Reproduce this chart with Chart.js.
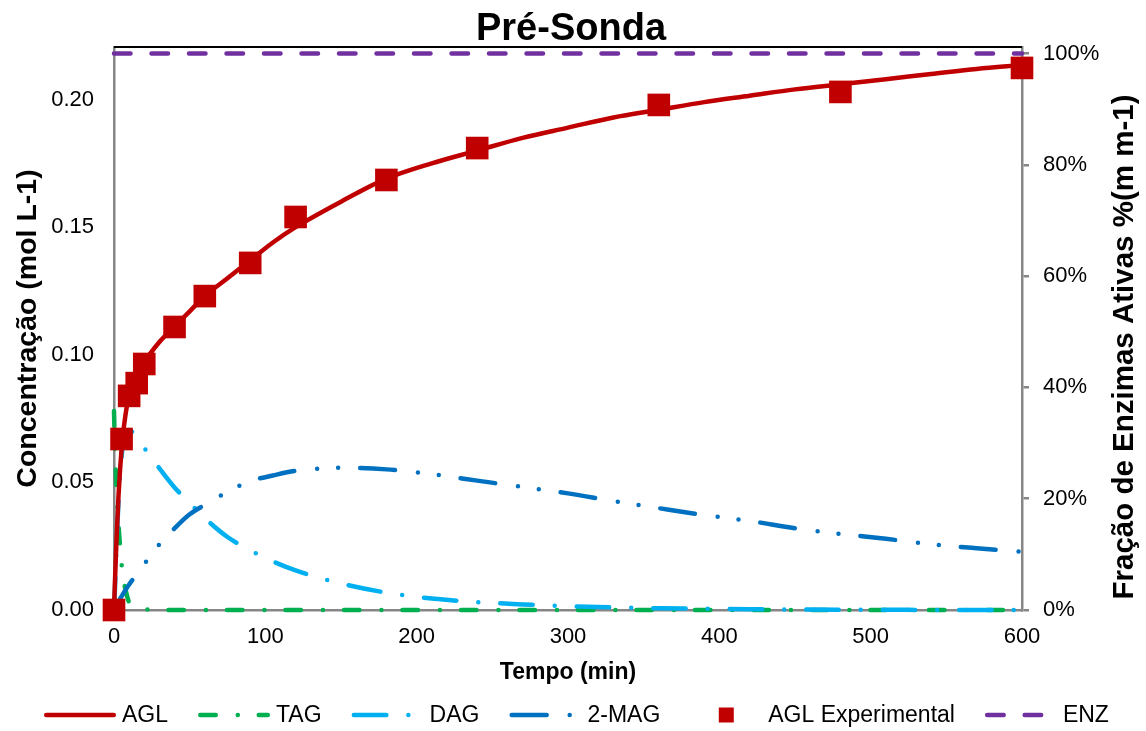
<!DOCTYPE html>
<html>
<head>
<meta charset="utf-8">
<script src="https://cdn.jsdelivr.net/npm/chart.js@4.4.1/dist/chart.umd.min.js"></script>
<style>
  html, body { margin: 0; padding: 0; background: #fff; }
</style>
</head>
<body>
<canvas id="chart" width="1146" height="731"></canvas>
<script>
// model time grid (min)
const times = [0, 0.5, 1, 1.5, 2, 3, 4, 5, 6, 8, 10, 15, 20, 30, 40, 50, 60, 75, 90, 105, 120,
  150, 180, 210, 240, 270, 300, 330, 360, 390, 420, 450, 480, 510, 540, 570, 600];

const agl = [0, 0.009, 0.017, 0.025, 0.032, 0.045, 0.055, 0.063, 0.069, 0.078, 0.084, 0.091, 0.097,
  0.105, 0.111, 0.117, 0.123, 0.130, 0.137, 0.144, 0.150, 0.160, 0.169, 0.175, 0.180, 0.185, 0.189,
  0.193, 0.196, 0.199, 0.2015, 0.204, 0.206, 0.208, 0.210, 0.212, 0.2135];

const tag = [0.078, 0.066, 0.057, 0.049, 0.043, 0.033, 0.025, 0.018, 0.013, 0.007, 0.003, 0.001, 0.0003,
  0, 0, 0, 0, 0, 0, 0, 0, 0, 0, 0, 0, 0, 0, 0, 0, 0, 0, 0, 0, 0, 0, 0, 0];

const dag = [0, 0.006, 0.014, 0.022, 0.030, 0.043, 0.053, 0.060, 0.065, 0.069, 0.0705, 0.0675, 0.0635,
  0.0555, 0.048, 0.042, 0.036, 0.0286, 0.0234, 0.019, 0.0155, 0.0104, 0.0068, 0.0045, 0.0031, 0.0022,
  0.0015, 0.001, 0.0007, 0.0005, 0.0003, 0.0002, 0.0001, 0.0001, 0, 0, 0];

const mag = [0, 0.0005, 0.001, 0.0015, 0.002, 0.003, 0.0043, 0.0053, 0.0063, 0.0082, 0.010, 0.014, 0.018,
  0.0257, 0.032, 0.0375, 0.0412, 0.0463, 0.0505, 0.0527, 0.0545, 0.0557, 0.0551, 0.0532, 0.0507, 0.0482,
  0.0457, 0.0427, 0.0399, 0.0372, 0.0349, 0.032, 0.0298, 0.0279, 0.0258, 0.0242, 0.0228];

// experimental points
const expTimes = [0, 5, 10, 15, 20, 40, 60, 90, 120, 180, 240, 360, 480, 600];
const expAgl = [0, 0.067, 0.0839, 0.0889, 0.0964, 0.1109, 0.123, 0.136, 0.154, 0.1685, 0.181, 0.1979, 0.203, 0.2124];

// active enzyme fraction
const enzTimes = [0, 600];
const enz = [1, 1];

const toXY = (xs, ys) => xs.map((x, i) => ({ x: x, y: ys[i] }));

const FONT = "'Liberation Sans', Arial, sans-serif";
Chart.defaults.font.family = FONT;
Chart.defaults.color = '#000';

const AXIS_GRAY = '#868686';

const lineDs = (label, data, color, dash, order) => ({
  label: label,
  data: data,
  showLine: true,
  borderColor: color,
  backgroundColor: color,
  borderWidth: 4.5,
  borderDash: dash,
  borderCapStyle: 'round',
  borderJoinStyle: 'round',
  pointRadius: 0,
  cubicInterpolationMode: 'monotone',
  clip: false,
  order: order,
  yAxisID: 'y'
});

const datasets = [
  lineDs('AGL', toXY(times, agl), '#C00000', [], 1),
  lineDs('TAG', toXY(times, tag), '#00B050', [15.5, 22, 0, 21], 4),
  lineDs('DAG', toXY(times, dag), '#00B0F0', [32.5, 22, 0, 22], 3),
  lineDs('2-MAG', toXY(times, mag), '#0070C0', [35, 23, 0, 21, 0, 22], 2),
  {
    label: 'AGL Experimental',
    data: toXY(expTimes, expAgl),
    showLine: false,
    pointStyle: 'rect',
    pointRadius: 16,
    pointBackgroundColor: '#C00000',
    pointBorderColor: '#C00000',
    pointBorderWidth: 0,
    clip: false,
    order: 0,
    yAxisID: 'y'
  },
  Object.assign(lineDs('ENZ', toXY(enzTimes, enz), '#7030A0', [16.5, 21], 5), { yAxisID: 'y1' })
];

// top frame line, chart title, right axis title and legend
const decor = {
  id: 'decor',
  beforeDatasetsDraw(chart) {
    const { ctx, chartArea } = chart;
    ctx.save();
    ctx.strokeStyle = '#000';
    ctx.lineWidth = 2;
    ctx.beginPath();
    ctx.moveTo(chartArea.left, chartArea.top);
    ctx.lineTo(chartArea.right, chartArea.top);
    ctx.stroke();
    ctx.restore();
  },
  afterDraw(chart) {
    const { ctx } = chart;
    ctx.save();
    ctx.fillStyle = '#000';

    ctx.font = 'bold 38px ' + FONT;
    ctx.textAlign = 'center';
    ctx.textBaseline = 'alphabetic';
    ctx.fillText('Pré-Sonda', 571, 40);

    ctx.save();
    ctx.translate(1125, 347);
    ctx.rotate(-Math.PI / 2);
    ctx.font = 'bold 29.5px ' + FONT;
    ctx.textBaseline = 'middle';
    ctx.fillText('Fração de Enzimas Ativas %(m m-1)', 0, 0);
    ctx.restore();

    // legend
    ctx.font = '23px ' + FONT;
    ctx.textAlign = 'left';
    ctx.textBaseline = 'middle';
    const legY = 715;
    const sample = 72, gapText = 6, gapItem = 30;
    let x = 44;
    datasets.forEach(d => {
      const w = ctx.measureText(d.label).width;
      if (d.showLine) {
        ctx.save();
        ctx.strokeStyle = d.borderColor;
        ctx.lineWidth = 4.5;
        ctx.lineCap = 'round';
        ctx.setLineDash(d.borderDash);
        ctx.beginPath();
        ctx.moveTo(x + 2.25, legY);
        ctx.lineTo(x + sample - 2.25, legY);
        ctx.stroke();
        ctx.restore();
      } else {
        ctx.fillStyle = d.pointBackgroundColor;
        ctx.fillRect(x + sample / 2 - 7.5, legY - 7.5, 15, 15);
        ctx.fillStyle = '#000';
      }
      ctx.fillText(d.label, x + sample + gapText, legY + 1);
      x += sample + gapText + w + gapItem;
    });
    ctx.restore();
  }
};

new Chart(document.getElementById('chart').getContext('2d'), {
  type: 'scatter',
  data: { datasets: datasets },
  options: {
    responsive: false,
    animation: false,
    layout: { padding: { top: 47, left: 0, right: 0, bottom: 0 } },
    plugins: {
      legend: { display: false },
      title: { display: false },
      tooltip: { enabled: false }
    },
    scales: {
      x: {
        type: 'linear',
        position: 'bottom',
        min: 0,
        max: 600,
        ticks: { stepSize: 100, padding: 14, maxRotation: 0, font: { size: 22 } },
        grid: { display: false, drawTicks: false },
        border: { color: AXIS_GRAY, width: 2.5 },
        title: {
          display: true,
          text: 'Tempo (min)',
          font: { size: 23, weight: 'bold' },
          padding: { top: 0, bottom: 45 }
        },
        afterFit: s => { s.height = 121; }
      },
      y: {
        type: 'linear',
        position: 'left',
        min: 0,
        max: 0.2206,
        ticks: { stepSize: 0.05, includeBounds: false, padding: 20, font: { size: 22 }, callback: v => v.toFixed(2) },
        grid: { display: false, drawTicks: false },
        border: { color: AXIS_GRAY, width: 2.5 },
        title: {
          display: true,
          text: 'Concentração (mol L-1)',
          font: { size: 28.5, weight: 'bold' },
          padding: { top: 11, bottom: 0 }
        },
        afterFit: s => { s.width = 114; }
      },
      y1: {
        type: 'linear',
        position: 'right',
        min: 0,
        max: 1.0117,
        ticks: { stepSize: 0.2, includeBounds: false, padding: 14, font: { size: 22 }, callback: v => Math.round(v * 100) + '%' },
        grid: { display: true, drawOnChartArea: false, drawTicks: true, tickLength: 7, color: AXIS_GRAY, lineWidth: 2.5 },
        border: { color: AXIS_GRAY, width: 2.5 },
        afterFit: s => { s.width = 124; }
      }
    }
  },
  plugins: [decor]
});
</script>
</body>
</html>
